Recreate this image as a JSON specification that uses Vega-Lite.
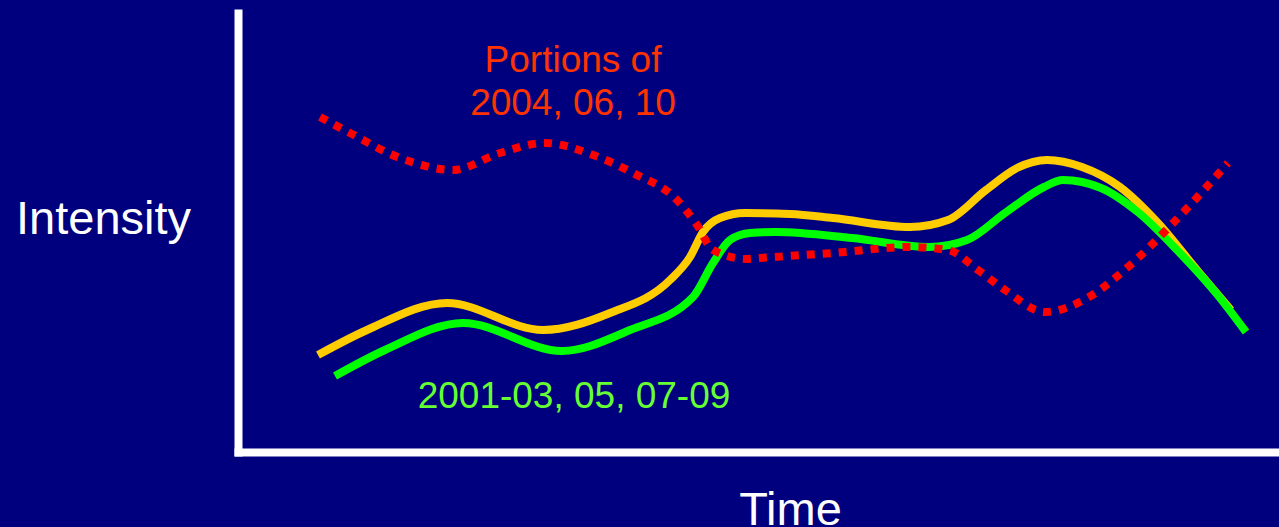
{
  "$schema": "https://vega.github.io/schema/vega-lite/v6.json",
  "width": 1041,
  "height": 439,
  "autosize": {"type": "none"},
  "padding": {"left": 238, "top": 13, "right": 0, "bottom": 75},
  "background": "#00007e",
  "config": {"view": {"stroke": null}, "font": "Liberation Sans"},
  "datasets": {
    "orange": [
      {"t": 318, "v": 97}, {"t": 367, "v": 122}, {"t": 447, "v": 149}, {"t": 543, "v": 122},
      {"t": 610, "v": 139}, {"t": 670, "v": 172}, {"t": 690, "v": 195}, {"t": 703, "v": 220},
      {"t": 720, "v": 234}, {"t": 745, "v": 239}, {"t": 790, "v": 238}, {"t": 833, "v": 234},
      {"t": 910, "v": 225}, {"t": 948, "v": 232}, {"t": 986, "v": 262}, {"t": 1017, "v": 284},
      {"t": 1047, "v": 292}, {"t": 1082, "v": 285}, {"t": 1120, "v": 265}, {"t": 1158, "v": 229},
      {"t": 1197, "v": 182}, {"t": 1231, "v": 142}
    ],
    "green": [
      {"t": 335, "v": 76}, {"t": 385, "v": 102}, {"t": 463, "v": 129}, {"t": 562, "v": 101},
      {"t": 630, "v": 122}, {"t": 693, "v": 155}, {"t": 713, "v": 189}, {"t": 730, "v": 212},
      {"t": 750, "v": 219}, {"t": 776, "v": 220}, {"t": 852, "v": 214}, {"t": 929, "v": 205},
      {"t": 967, "v": 212}, {"t": 1005, "v": 239}, {"t": 1044, "v": 265}, {"t": 1063, "v": 272},
      {"t": 1101, "v": 264}, {"t": 1139, "v": 239}, {"t": 1177, "v": 202}, {"t": 1216, "v": 159},
      {"t": 1246, "v": 120}
    ],
    "red": [
      {"t": 320, "v": 335}, {"t": 350, "v": 319}, {"t": 400, "v": 294}, {"t": 453, "v": 282},
      {"t": 500, "v": 299}, {"t": 545, "v": 309}, {"t": 593, "v": 297}, {"t": 633, "v": 279},
      {"t": 677, "v": 252}, {"t": 697, "v": 227}, {"t": 713, "v": 202}, {"t": 747, "v": 193},
      {"t": 760, "v": 194}, {"t": 833, "v": 199}, {"t": 910, "v": 205}, {"t": 948, "v": 202},
      {"t": 978, "v": 182}, {"t": 1005, "v": 162}, {"t": 1045, "v": 140}, {"t": 1089, "v": 155},
      {"t": 1128, "v": 185}, {"t": 1174, "v": 230}, {"t": 1228, "v": 289}
    ],
    "labels": [
      {"t": 573, "v": 380, "label": "Portions of", "group": "red"},
      {"t": 573, "v": 337, "label": "2004, 06, 10", "group": "red"},
      {"t": 574, "v": 44, "label": "2001-03, 05, 07-09", "group": "green"}
    ]
  },
  "encoding": {
    "x": {
      "field": "t", "type": "quantitative",
      "scale": {"domain": [238, 1279], "nice": false, "zero": false},
      "axis": {
        "domain": true, "domainColor": "white", "domainWidth": 8, "domainCap": "square",
        "ticks": false, "labels": false, "grid": false,
        "title": "Time", "titleColor": "white", "titleFontSize": 47, "titleFontWeight": "normal",
        "titleFont": "Liberation Sans",
        "titleX": 552, "titleY": 72, "titleAlign": "center", "titleBaseline": "alphabetic"
      }
    },
    "y": {
      "field": "v", "type": "quantitative",
      "scale": {"domain": [0, 439], "nice": false, "zero": false},
      "axis": {
        "domain": true, "domainColor": "white", "domainWidth": 8, "domainCap": "square",
        "ticks": false, "labels": false, "grid": false,
        "title": "Intensity", "titleColor": "white", "titleFontSize": 47, "titleFontWeight": "normal",
        "titleFont": "Liberation Sans", "titleAngle": 0,
        "titleX": -135, "titleY": 220, "titleAlign": "center", "titleBaseline": "alphabetic"
      }
    }
  },
  "layer": [
    {
      "data": {"name": "orange"},
      "mark": {"type": "line", "interpolate": "monotone", "color": "#FFCC00", "strokeWidth": 8}
    },
    {
      "data": {"name": "green"},
      "mark": {"type": "line", "interpolate": "monotone", "color": "#00FF00", "strokeWidth": 8}
    },
    {
      "data": {"name": "red"},
      "mark": {"type": "line", "interpolate": "monotone", "color": "#FF0000", "strokeWidth": 8, "strokeDash": [8, 8], "strokeCap": "butt"}
    },
    {
      "data": {"name": "labels"},
      "mark": {"type": "text", "fontSize": 37, "align": "center", "baseline": "alphabetic", "font": "Liberation Sans"},
      "encoding": {
        "text": {"field": "label"},
        "color": {
          "field": "group", "type": "nominal", "legend": null,
          "scale": {"domain": ["red", "green"], "range": ["#FF3300", "#66FF33"]}
        }
      }
    }
  ]
}
